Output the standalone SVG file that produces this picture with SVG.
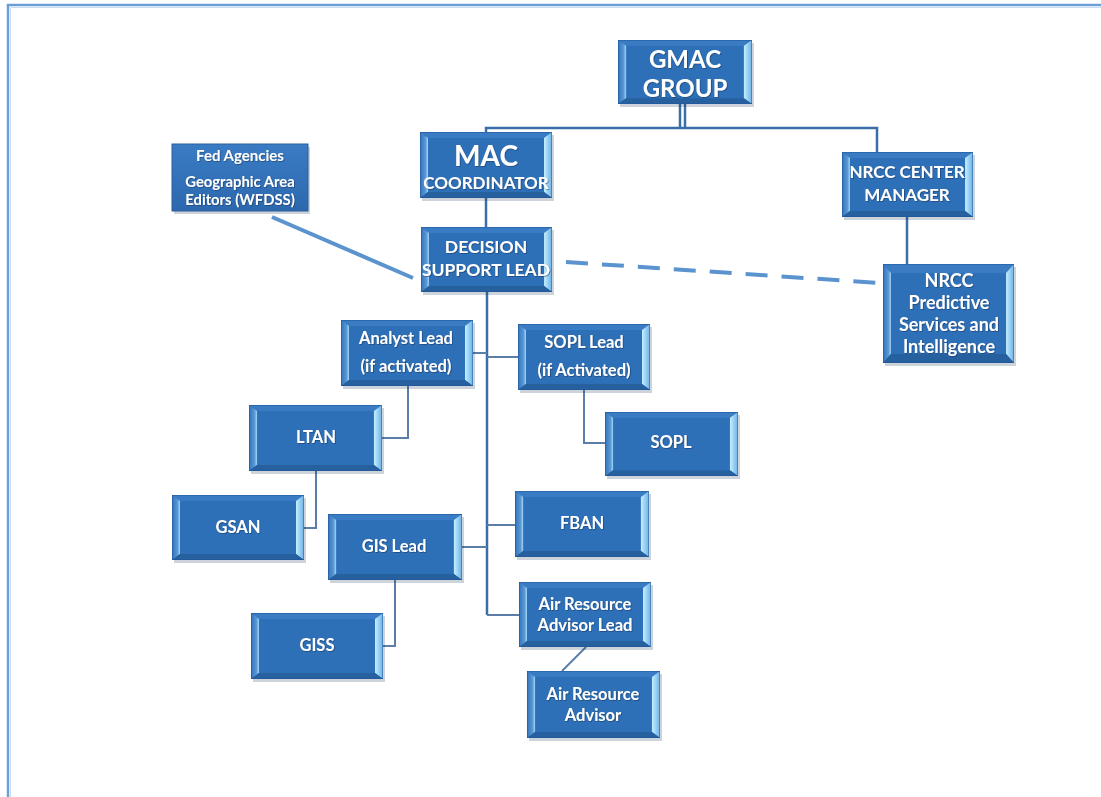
<svg xmlns="http://www.w3.org/2000/svg" xmlns:xlink="http://www.w3.org/1999/xlink" width="1101" height="797" viewBox="0 0 1101 797">
<style>
.b{fill:#2e70b7}
.t{fill:#3a7cc4}
.bt{fill:#26609f}
.l{fill:url(#gl)}
.r{fill:url(#gr)}
.o{fill:none;stroke:#1f5594;stroke-width:1;vector-effect:non-scaling-stroke}
.sh{fill:#1b3557;opacity:0.22}
.tx{font-family:Lato,"Open Sans","Liberation Sans",sans-serif;font-weight:bold;fill:#ffffff;text-anchor:middle;filter:url(#ts)}
.s{font-size:16.5px}
.c{fill:none;stroke:#3a6ea8;stroke-width:2.5}
.cs{fill:none;stroke:#5a7ea8;stroke-width:2}
.cl{fill:none;stroke:#5b93cf;stroke-width:4}
</style>
<defs>
<linearGradient id="gl" x1="0" y1="0" x2="1" y2="0">
<stop offset="0" stop-color="#3372ba"/>
<stop offset="0.7" stop-color="#5a9ad6"/>
<stop offset="1" stop-color="#a6d8f6"/>
</linearGradient>
<linearGradient id="gr" x1="0" y1="0" x2="1" y2="0">
<stop offset="0" stop-color="#c4efff"/>
<stop offset="1" stop-color="#6cb0e6"/>
</linearGradient>
<linearGradient id="gf" x1="0" y1="0" x2="0" y2="1">
<stop offset="0" stop-color="#3a7cc4"/>
<stop offset="1" stop-color="#2c68ae"/>
</linearGradient>
<filter id="ts" x="-10%" y="-20%" width="120%" height="150%">
<feDropShadow dx="0.8" dy="0.8" stdDeviation="0.6" flood-color="#0f2e55" flood-opacity="0.6"/>
</filter>
<symbol id="bev" viewBox="0 0 132 66" preserveAspectRatio="none">
<rect class="b" x="0" y="0" width="132" height="66"/>
<polygon class="t" points="0,0 132,0 124,6 8,6"/>
<polygon class="l" points="0,0 8,6 8,60 0,66"/>
<polygon class="r" points="132,0 132,66 124,60 124,6"/>
<polygon class="bt" points="0,66 8,60 124,60 132,66"/>
<rect class="o" x="0" y="0" width="132" height="66"/>
</symbol>
</defs>
<rect x="0" y="0" width="1101" height="797" fill="#ffffff"/>
<path d="M8,797 V5 H1101" fill="none" stroke="#6d9fd6" stroke-width="2.5"/>
<path d="M10.5,797 V7.5 H1101" fill="none" stroke="#c9def3" stroke-width="1"/>

<g id="connectors">
<line class="c" x1="680" y1="104" x2="680" y2="128"/>
<line class="c" x1="685" y1="104" x2="685" y2="128"/>
<polyline class="c" points="486,132 486,128 877,128 877,152"/>
<line class="c" x1="486" y1="198" x2="486" y2="227"/>
<line class="c" x1="487" y1="292" x2="487" y2="615"/>
<line class="cs" x1="473" y1="353" x2="487" y2="353"/>
<line class="cs" x1="487" y1="357" x2="518" y2="357"/>
<polyline class="cs" points="408,386 408,438 382,438"/>
<polyline class="cs" points="584,390 584,443 605,443"/>
<polyline class="cs" points="316,471 316,528 304,528"/>
<line class="cs" x1="487" y1="525" x2="515" y2="525"/>
<line class="cs" x1="462" y1="547" x2="487" y2="547"/>
<line class="cs" x1="487" y1="615" x2="519" y2="615"/>
<polyline class="cs" points="395,580 395,646 383,646"/>
<line class="cs" x1="586" y1="647" x2="562" y2="671"/>
<line class="cl" x1="272" y1="217" x2="413" y2="278"/>
<line class="cl" x1="566" y1="262" x2="880" y2="283" stroke-width="5" stroke-dasharray="22 14"/>
<line class="c" x1="907" y1="217" x2="907" y2="264"/>
</g>

<g id="n-gmac">
<rect class="sh" x="620" y="43" width="134" height="64"/>
<use href="#bev" x="618" y="40" width="134" height="64"/>
<text class="tx" x="685" y="68" font-size="24">GMAC</text>
<text class="tx" x="685" y="97" font-size="24">GROUP</text>
</g>
<g id="n-mac">
<rect class="sh" x="422" y="135" width="132" height="66"/>
<use href="#bev" x="420" y="132" width="132" height="66"/>
<text class="tx" x="486" y="166" font-size="28">MAC</text>
<text class="tx" x="486" y="189" font-size="17">COORDINATOR</text>
</g>
<g id="n-fed">
<rect class="sh" x="174" y="147" width="136" height="67"/>
<rect x="172" y="144" width="136" height="67" fill="url(#gf)" stroke="#2a5f9c" stroke-width="1"/>
<text class="tx" x="240" y="161" font-size="15">Fed Agencies</text>
<text class="tx" x="240" y="187" font-size="14.8">Geographic Area</text>
<text class="tx" x="240" y="205" font-size="14.8">Editors (WFDSS)</text>
</g>
<g id="n-dsl">
<rect class="sh" x="423" y="230" width="131" height="65"/>
<use href="#bev" x="421" y="227" width="131" height="65"/>
<text class="tx" x="486" y="253" font-size="17.5">DECISION</text>
<text class="tx" x="486" y="276" font-size="17.5">SUPPORT LEAD</text>
</g>
<g id="n-nrccmgr">
<rect class="sh" x="844" y="155" width="131" height="65"/>
<use href="#bev" x="842" y="152" width="131" height="65"/>
<text class="tx" x="907" y="178" font-size="17">NRCC CENTER</text>
<text class="tx" x="907" y="201" font-size="17">MANAGER</text>
</g>
<g id="n-nrccps">
<rect class="sh" x="885" y="267" width="131" height="99"/>
<use href="#bev" x="883" y="264" width="131" height="99"/>
<text class="tx" x="949" y="287" font-size="18">NRCC</text>
<text class="tx" x="949" y="309" font-size="18">Predictive</text>
<text class="tx" x="949" y="331" font-size="18">Services and</text>
<text class="tx" x="949" y="353" font-size="18">Intelligence</text>
</g>
<g id="n-analyst">
<rect class="sh" x="343" y="323" width="132" height="66"/>
<use href="#bev" x="341" y="320" width="132" height="66"/>
<text class="tx s" x="406" y="344">Analyst Lead</text>
<text class="tx s" x="406" y="372">(if activated)</text>
</g>
<g id="n-sopllead">
<rect class="sh" x="520" y="327" width="132" height="66"/>
<use href="#bev" x="518" y="324" width="132" height="66"/>
<text class="tx s" x="584" y="348">SOPL Lead</text>
<text class="tx s" x="584" y="376">(if Activated)</text>
</g>
<g id="n-ltan">
<rect class="sh" x="251" y="408" width="133" height="66"/>
<use href="#bev" x="249" y="405" width="133" height="66"/>
<text class="tx s" x="316" y="443">LTAN</text>
</g>
<g id="n-sopl">
<rect class="sh" x="607" y="415" width="133" height="64"/>
<use href="#bev" x="605" y="412" width="133" height="64"/>
<text class="tx s" x="671" y="448">SOPL</text>
</g>
<g id="n-gsan">
<rect class="sh" x="174" y="498" width="132" height="65"/>
<use href="#bev" x="172" y="495" width="132" height="65"/>
<text class="tx s" x="238" y="533">GSAN</text>
</g>
<g id="n-fban">
<rect class="sh" x="517" y="494" width="134" height="66"/>
<use href="#bev" x="515" y="491" width="134" height="66"/>
<text class="tx s" x="582" y="529">FBAN</text>
</g>
<g id="n-gislead">
<rect class="sh" x="330" y="517" width="134" height="66"/>
<use href="#bev" x="328" y="514" width="134" height="66"/>
<text class="tx s" x="394" y="552">GIS Lead</text>
</g>
<g id="n-giss">
<rect class="sh" x="253" y="616" width="132" height="66"/>
<use href="#bev" x="251" y="613" width="132" height="66"/>
<text class="tx s" x="317" y="651">GISS</text>
</g>
<g id="n-aral">
<rect class="sh" x="521" y="585" width="132" height="65"/>
<use href="#bev" x="519" y="582" width="132" height="65"/>
<text class="tx s" x="585" y="610">Air Resource</text>
<text class="tx s" x="585" y="631">Advisor Lead</text>
</g>
<g id="n-ara">
<rect class="sh" x="529" y="674" width="133" height="67"/>
<use href="#bev" x="527" y="671" width="133" height="67"/>
<text class="tx s" x="593" y="700">Air Resource</text>
<text class="tx s" x="593" y="721">Advisor</text>
</g>
</svg>
